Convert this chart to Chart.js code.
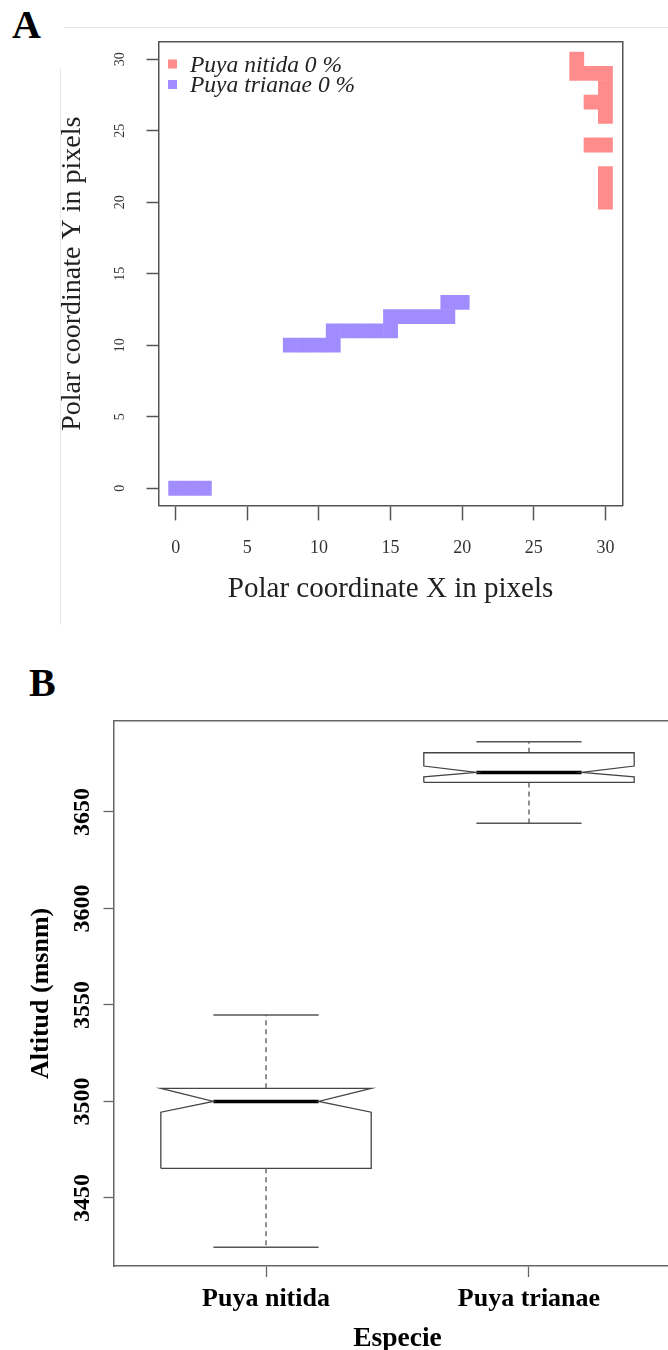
<!DOCTYPE html>
<html>
<head>
<meta charset="utf-8">
<script src="https://cdn.jsdelivr.net/npm/chart.js@4.4.1/dist/chart.umd.min.js"></script>
<style>
html,body{margin:0;padding:0;background:#fff;width:668px;height:1350px;overflow:hidden;position:relative;}
.lbl{position:absolute;font-family:"Liberation Serif",serif;font-weight:bold;font-size:40px;line-height:1;color:#000;}
.fl{position:absolute;background:#e8e8e8;}
#cA{position:absolute;left:0;top:0;}
#cB{position:absolute;left:0;top:640px;}
</style>
</head>
<body>
<div class="fl" style="left:64px;top:27px;width:604px;height:1px"></div>
<div class="fl" style="left:60px;top:68px;width:1px;height:557px"></div>
<div class="lbl" style="left:12px;top:5px">A</div>
<div class="lbl" style="left:29px;top:663px">B</div>
<canvas id="cA" width="668" height="630"></canvas>
<canvas id="cB" width="700" height="720"></canvas>
<script>
// ---------- Panel A data ----------
const seriesNames = ['Puya nitida 0 %', 'Puya trianae 0 %'];
const nitidaX  = [28, 28, 29, 30, 30, 29, 30, 30, 29, 30, 30, 30, 30];
const nitidaY  = [30, 29, 29, 29, 28, 27, 27, 26, 24, 24, 22, 21, 20];
const trianaeX = [0, 1, 2, 8, 9, 10, 11, 11, 12, 13, 14, 15, 15, 16, 17, 18, 19, 19, 20];
const trianaeY = [0, 0, 0, 10, 10, 10, 10, 11, 11, 11, 11, 11, 12, 12, 12, 12, 12, 13, 13];
const pixelTicks = [0, 5, 10, 15, 20, 25, 30];

// ---------- Panel B data ----------
const species     = ['Puya nitida', 'Puya trianae'];
const whiskerLow  = [3424.4, 3644.1];
const q1          = [3465.3, 3665.3];
const notchLow    = [3494.4, 3668.2];
const median      = [3500.0, 3670.5];
const notchHigh   = [3506.8, 3673.8];
const q3          = [3506.8, 3680.7];
const whiskerHigh = [3544.8, 3686.4];
const altitudeTicks = [3450, 3500, 3550, 3600, 3650];

const SERIF = '"Liberation Serif", "Times New Roman", serif';

// ---------- Panel A ----------
function toPts(xs, ys) { return xs.map((x, i) => ({x: x, y: ys[i]})); }
function cellRadius(ctx) {
  const s = ctx.chart.scales.x;
  return Math.abs(s.getPixelForValue(1) - s.getPixelForValue(0)) / Math.SQRT2 + 0.35;
}
const legendInA = {
  id: 'legendInA',
  afterDraw(chart) {
    const {ctx, chartArea} = chart;
    ctx.save();
    ctx.font = 'italic 23.5px ' + SERIF;
    ctx.textBaseline = 'middle';
    chart.data.datasets.forEach((ds, i) => {
      const cy = chartArea.top + 22 + i * 20.5;
      ctx.fillStyle = ds.backgroundColor;
      ctx.fillRect(chartArea.left + 9.5, cy - 4.5, 9, 9);
      ctx.fillStyle = '#222';
      ctx.fillText(ds.label, chartArea.left + 31.5, cy + 1.5);
    });
    ctx.restore();
  }
};
const axisLineA = '#555';
function boxAxis(pos, extra) {
  return Object.assign({
    type: 'linear', position: pos, min: -1.2, max: 31.2, display: true,
    ticks: {display: false}, grid: {display: false},
    border: {display: true, color: axisLineA, width: 1.5}
  }, extra || {});
}
new Chart(document.getElementById('cA'), {
  type: 'scatter',
  data: {
    datasets: [
      {label: seriesNames[0], data: toPts(nitidaX, nitidaY), backgroundColor: '#FF8C8C',
       pointStyle: 'rect', radius: cellRadius, hoverRadius: cellRadius, borderWidth: 0},
      {label: seriesNames[1], data: toPts(trianaeX, trianaeY), backgroundColor: '#A08CFF',
       pointStyle: 'rect', radius: cellRadius, hoverRadius: cellRadius, borderWidth: 0}
    ]
  },
  options: {
    responsive: false, animation: false, events: [],
    layout: {padding: {top: 42, right: 45.4, bottom: 0, left: 0}},
    plugins: {legend: {display: false}, tooltip: {enabled: false}},
    scales: {
      x: {
        type: 'linear', position: 'bottom', min: -1.2, max: 31.2,
        afterBuildTicks: a => { a.ticks = pixelTicks.map(v => ({value: v})); },
        afterFit: s => { s.height = 124.6; },
        ticks: {autoSkip: false, padding: 17, color: '#333', font: {family: SERIF, size: 18}},
        grid: {drawOnChartArea: false, drawTicks: true, tickLength: 15, tickColor: axisLineA, tickWidth: 1.5},
        border: {display: true, color: axisLineA, width: 1.5},
        title: {display: true, text: 'Polar coordinate X in pixels', color: '#222',
                font: {family: SERIF, size: 29}, padding: {top: 0, bottom: 23.6}}
      },
      y: {
        type: 'linear', position: 'left', min: -1.2, max: 31.2,
        afterBuildTicks: a => { a.ticks = pixelTicks.map(v => ({value: v})); },
        afterFit: s => { s.width = 158.5; },
        ticks: {autoSkip: false, minRotation: 90, maxRotation: 90, crossAlign: 'center', padding: 19.5,
                color: '#333', font: {family: SERIF, size: 14}},
        grid: {drawOnChartArea: false, drawTicks: true, tickLength: 12, tickColor: axisLineA, tickWidth: 1.5},
        border: {display: true, color: axisLineA, width: 1.5},
        title: {display: true, text: 'Polar coordinate Y in pixels', color: '#222',
                font: {family: SERIF, size: 28}, padding: {top: 56.2, bottom: 0}}
      },
      x2: boxAxis('top', {afterFit: s => { s.height = 0; }}),
      y2: boxAxis('right', {afterFit: s => { s.width = 0; }})
    }
  },
  plugins: [legendInA]
});

// ---------- Panel B ----------
const BOXW = 0.4, NOTCHW = 0.2, CAPW = 0.2;
const outline = '#444', whiskCol = '#555';
function boxDatasets(i) {
  const cx = i + 1;
  const poly = [
    {x: cx - BOXW, y: q1[i]}, {x: cx - BOXW, y: notchLow[i]}, {x: cx - NOTCHW, y: median[i]},
    {x: cx - BOXW, y: notchHigh[i]}, {x: cx - BOXW, y: q3[i]}, {x: cx + BOXW, y: q3[i]},
    {x: cx + BOXW, y: notchHigh[i]}, {x: cx + NOTCHW, y: median[i]}, {x: cx + BOXW, y: notchLow[i]},
    {x: cx + BOXW, y: q1[i]}, {x: cx - BOXW, y: q1[i]}
  ];
  const base = {showLine: true, pointRadius: 0, hoverRadius: 0, fill: false, tension: 0, borderJoinStyle: 'miter'};
  return [
    Object.assign({label: species[i] + ' upper whisker', data: [{x: cx, y: q3[i]}, {x: cx, y: whiskerHigh[i]}],
                   borderColor: whiskCol, borderWidth: 1.3, borderDash: [5, 4]}, base),
    Object.assign({label: species[i] + ' lower whisker', data: [{x: cx, y: q1[i]}, {x: cx, y: whiskerLow[i]}],
                   borderColor: whiskCol, borderWidth: 1.3, borderDash: [5, 4]}, base),
    Object.assign({label: species[i] + ' upper cap', data: [{x: cx - CAPW, y: whiskerHigh[i]}, {x: cx + CAPW, y: whiskerHigh[i]}],
                   borderColor: whiskCol, borderWidth: 1.5}, base),
    Object.assign({label: species[i] + ' lower cap', data: [{x: cx - CAPW, y: whiskerLow[i]}, {x: cx + CAPW, y: whiskerLow[i]}],
                   borderColor: whiskCol, borderWidth: 1.5}, base),
    Object.assign({label: species[i] + ' box', data: poly, borderColor: outline, borderWidth: 1.3}, base),
    Object.assign({label: species[i] + ' median', data: [{x: cx - NOTCHW, y: median[i]}, {x: cx + NOTCHW, y: median[i]}],
                   borderColor: '#000', borderWidth: 3.5, borderCapStyle: 'butt'}, base)
  ];
}
const axisLineB = '#666';
new Chart(document.getElementById('cB'), {
  type: 'scatter',
  data: {datasets: species.flatMap((s, i) => boxDatasets(i))},
  options: {
    responsive: false, animation: false, events: [],
    layout: {padding: {top: 80.7, right: 18.5, bottom: 0, left: 0}},
    plugins: {legend: {display: false}, tooltip: {enabled: false}},
    scales: {
      x: {
        type: 'linear', position: 'bottom', min: 0.42, max: 2.58,
        afterBuildTicks: a => { a.ticks = species.map((s, i) => ({value: i + 1})); },
        afterFit: s => { s.height = 94; },
        ticks: {autoSkip: false, padding: 6.4, color: '#000',
                font: {family: SERIF, size: 26, weight: 'bold'},
                callback: v => species[Math.round(v) - 1]},
        grid: {drawOnChartArea: false, drawTicks: true, tickLength: 11, tickColor: axisLineB, tickWidth: 1.3},
        border: {display: true, color: axisLineB, width: 1.5},
        title: {display: true, text: 'Especie', color: '#000',
                font: {family: SERIF, size: 27.5, weight: 'bold'}, padding: {top: 0, bottom: 4.5}}
      },
      y: {
        type: 'linear', position: 'left', min: 3414.7, max: 3697.3,
        afterBuildTicks: a => { a.ticks = altitudeTicks.map(v => ({value: v})); },
        afterFit: s => { s.width = 113.5; },
        ticks: {autoSkip: false, minRotation: 90, maxRotation: 90, crossAlign: 'center', padding: -3.5,
                color: '#000', font: {family: SERIF, size: 24, weight: 'bold'},
                callback: v => String(v)},
        grid: {drawOnChartArea: false, drawTicks: true, tickLength: 10, tickColor: axisLineB, tickWidth: 1.3},
        border: {display: true, color: axisLineB, width: 1.5},
        title: {display: true, text: 'Altitud (msnm)', color: '#000',
                font: {family: SERIF, size: 26, weight: 'bold'}, padding: {top: 25.9, bottom: 0}}
      },
      x2: {
        type: 'linear', position: 'top', min: 0.42, max: 2.58, display: true,
        ticks: {display: false}, grid: {display: false},
        border: {display: true, color: axisLineB, width: 1.5},
        afterFit: s => { s.height = 0; }
      },
      y2: {
        type: 'linear', position: 'right', min: 3414.7, max: 3697.3, display: true,
        ticks: {display: false}, grid: {display: false},
        border: {display: true, color: axisLineB, width: 1.5},
        afterFit: s => { s.width = 0; }
      }
    }
  }
});
</script>
</body>
</html>
